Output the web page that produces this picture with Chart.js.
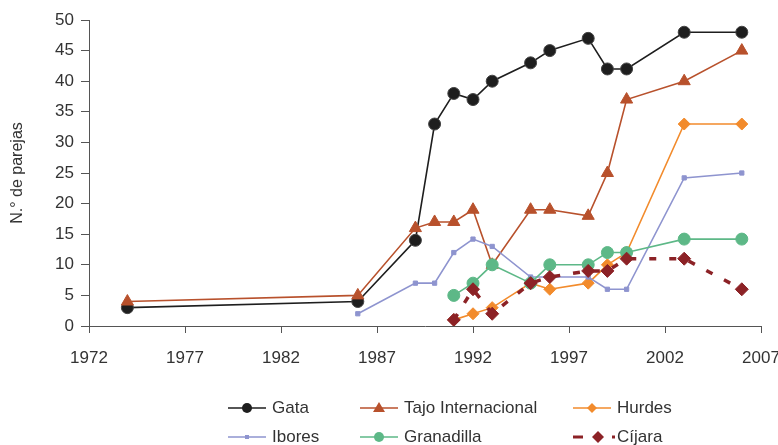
<!DOCTYPE html>
<html><head><meta charset="utf-8">
<script src="https://cdn.jsdelivr.net/npm/chart.js@4"></script>
<style>
html,body{margin:0;padding:0;background:#fff;overflow:hidden;}
#wrap{position:relative;width:778px;height:445px;overflow:hidden;}
#c{position:absolute;left:0;top:0;}
.leg{position:absolute;height:20px;display:flex;align-items:center;font:17px "Liberation Sans",Arial,sans-serif;color:#333;white-space:nowrap;}
.leg svg{margin-right:6px;display:block;}
</style></head><body>
<div id="wrap"><canvas id="c" width="800" height="445"></canvas><div id="legend"></div></div>
<script>
// ---- data ----
const seriesNames = ["Gata","Tajo Internacional","Hurdes","Ibores","Granadilla","Cíjara"];
const gataYears = [1974,1986,1989,1990,1991,1992,1993,1995,1996,1998,1999,2000,2003,2006];
const gataValues = [3,4,14,33,38,37,40,43,45,47,42,42,48,48];
const tajoYears = [1974,1986,1989,1990,1991,1992,1993,1995,1996,1998,1999,2000,2003,2006];
const tajoValues = [4,5,16,17,17,19,10,19,19,18,25,37,40,45];
const hurdesYears = [1991,1992,1993,1995,1996,1998,1999,2000,2003,2006];
const hurdesValues = [1,2,3,7,6,7,10,12,33,33];
const iboresYears = [1986,1989,1990,1991,1992,1993,1995,1996,1998,1999,2000,2003,2006];
const iboresValues = [2,7,7,12,14.2,13,8,8,8,6,6,24.2,25];
const granadillaYears = [1991,1992,1993,1995,1996,1998,1999,2000,2003,2006];
const granadillaValues = [5,7,10,7,10,10,12,12,14.2,14.2];
const cijaraYears = [1991,1992,1993,1995,1996,1998,1999,2000,2003,2006];
const cijaraValues = [1,6,2,7,8,9,9,11,11,6];
const xTickMin = 1972, xTickMax = 2007, xTickStep = 5;
const yTickMin = 0, yTickMax = 50, yTickStep = 5;
const yAxisTitle = "N.° de parejas";

const FONT = '"Liberation Sans", Arial, sans-serif';
const pts = (xs, ys) => xs.map((x, i) => ({x, y: ys[i]}));

const styles = [
  {color:'#1e1e1e', pb:'#444', ps:'circle', pr:6, lw:1.6},
  {color:'#b8512c', pb:'#b8512c', ps:'triangle', pr:7, lw:1.6},
  {color:'#f28b2c', pb:'#f28b2c', ps:'rectRot', pr:6, lw:1.6},
  {color:'#8e94cf', pb:'#8e94cf', ps:'rect', pr:3, lw:1.6},
  {color:'#5db887', pb:'#5db887', ps:'circle', pr:6, lw:1.6},
  {color:'#8c2226', pb:'#8c2226', ps:'rectRot', pr:6.5, lw:3.5, dash:[7,13]}
];
const dataSets = [
  pts(gataYears, gataValues), pts(tajoYears, tajoValues), pts(hurdesYears, hurdesValues),
  pts(iboresYears, iboresValues), pts(granadillaYears, granadillaValues), pts(cijaraYears, cijaraValues)
];

const datasets = dataSets.map((d, i) => ({
  label: seriesNames[i],
  data: d,
  borderColor: styles[i].color,
  backgroundColor: styles[i].color,
  pointBackgroundColor: styles[i].color,
  pointBorderColor: styles[i].pb,
  pointBorderWidth: 1,
  pointStyle: styles[i].ps,
  pointRadius: styles[i].pr,
  borderWidth: styles[i].lw,
  borderDash: styles[i].dash || [],
  borderCapStyle: 'butt',
  tension: 0,
  order: 5 - i
}));

new Chart(document.getElementById('c'), {
  type: 'line',
  data: {datasets},
  options: {
    responsive: false,
    animation: false,
    layout: {padding: {left: 0, right: 39, top: 20, bottom: 0}},
    plugins: {legend: {display: false}, tooltip: {enabled: false}},
    scales: {
      x: {
        type: 'linear', min: xTickMin, max: xTickMax,
        ticks: {stepSize: xTickStep, callback: v => String(v), color: '#333', font: {family: FONT, size: 17}, padding: 15, maxRotation: 0, autoSkip: false},
        grid: {drawOnChartArea: false, tickLength: 7, color: '#555'},
        border: {color: '#555'},
        afterFit: s => { s.height = 119; }
      },
      y: {
        min: yTickMin, max: yTickMax,
        ticks: {stepSize: yTickStep, color: '#333', font: {family: FONT, size: 17}, padding: 7},
        grid: {drawOnChartArea: false, tickLength: 8, color: '#555'},
        border: {color: '#555'},
        title: {display: true, text: yAxisTitle, color: '#333', font: {family: FONT, size: 16}, padding: {top: 8, bottom: 0}},
        afterFit: s => { s.width = 89; }
      }
    }
  }
});

// ---- legend ----
function markerSvg(i) {
  const c = styles[i].color;
  let m = '';
  if (i === 0) m = `<circle cx="19" cy="10" r="5" fill="${c}"/>`;
  if (i === 1) m = `<polygon points="19,4 25,14 13,14" fill="${c}"/>`;
  if (i === 2) m = `<polygon points="19,5 24,10 19,15 14,10" fill="${c}"/>`;
  if (i === 3) m = `<rect x="17" y="8" width="4" height="4" fill="${c}"/>`;
  if (i === 4) m = `<circle cx="19" cy="10" r="5" fill="${c}"/>`;
  if (i === 5) {
    return `<svg width="42" height="20" style="margin-right:2px"><line x1="0" y1="10" x2="10" y2="10" stroke="${c}" stroke-width="3"/><polygon points="25,4 31,10 25,16 19,10" fill="${c}"/><line x1="39" y1="10" x2="42" y2="10" stroke="${c}" stroke-width="3"/></svg>`;
  }
  return `<svg width="38" height="20"><line x1="0" y1="10" x2="38" y2="10" stroke="${c}" stroke-width="1.6"/>${m}</svg>`;
}
const legPos = [[228,398],[360,398],[573,398],[228,427],[360,427],[573,427]];
const leg = document.getElementById('legend');
seriesNames.forEach((n, i) => {
  const d = document.createElement('div');
  d.className = 'leg';
  d.style.left = legPos[i][0] + 'px';
  d.style.top = legPos[i][1] + 'px';
  d.innerHTML = markerSvg(i) + '<span>' + n + '</span>';
  leg.appendChild(d);
});
</script>
</body></html>
